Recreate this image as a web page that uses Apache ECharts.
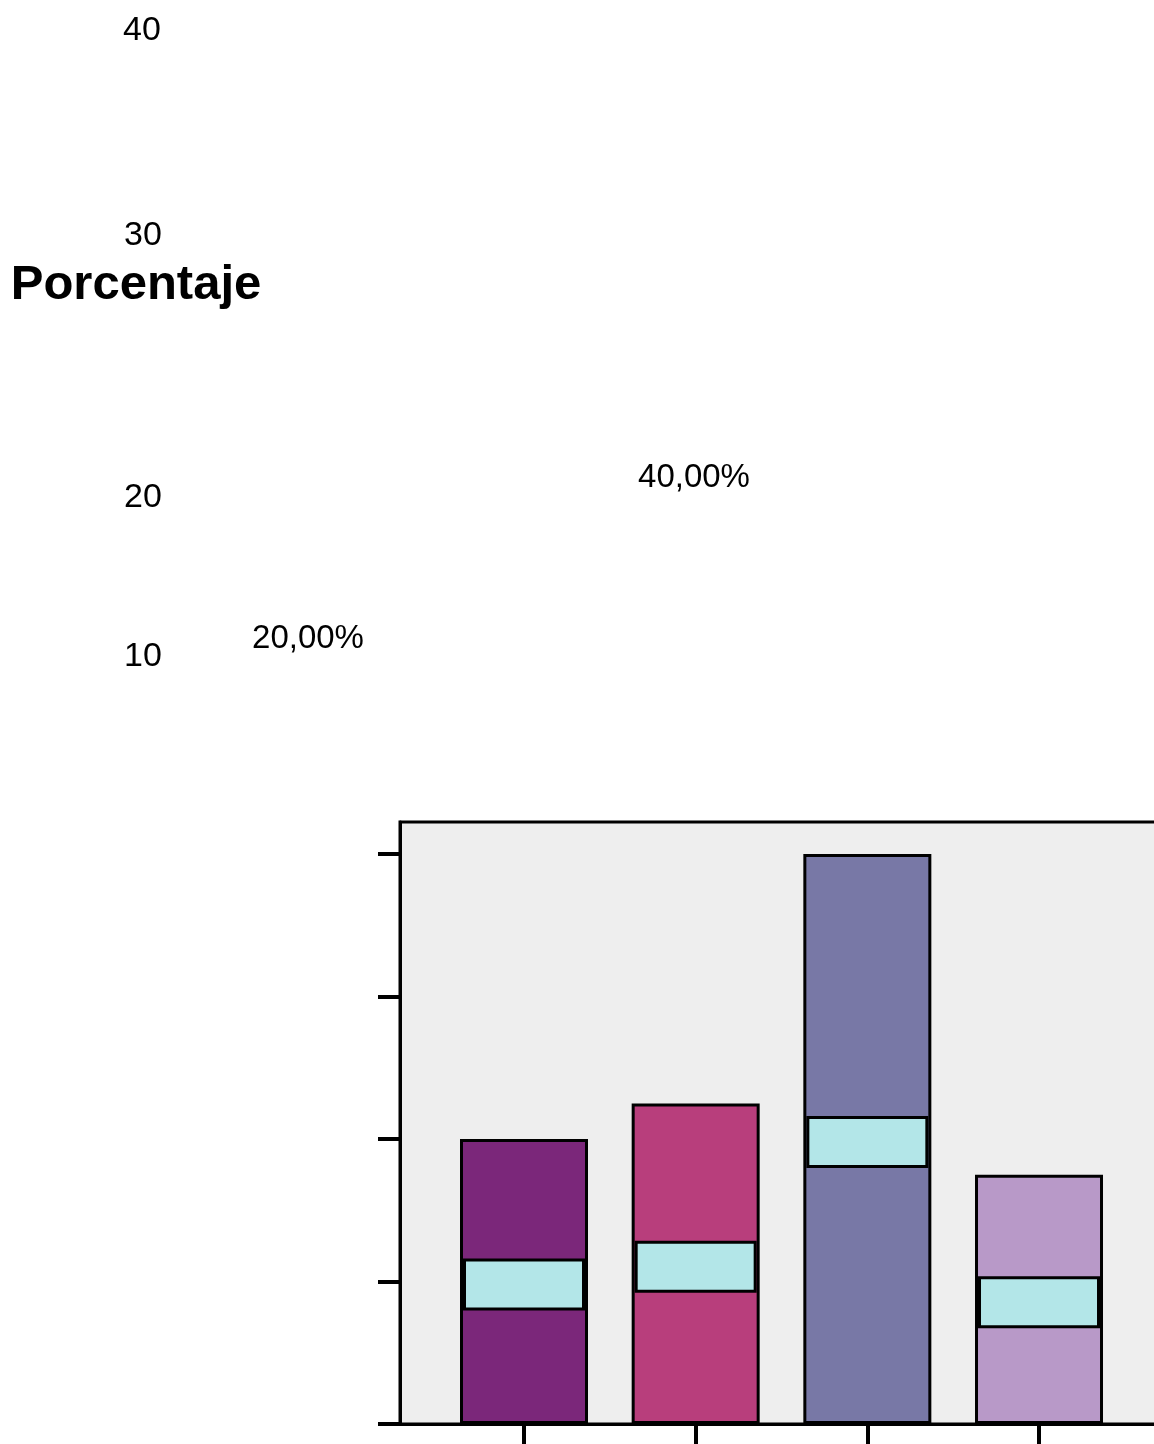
<!DOCTYPE html>
<html>
<head>
<meta charset="utf-8">
<script src="https://cdn.jsdelivr.net/npm/echarts@6/dist/echarts.min.js"></script>
<style>
html,body{margin:0;padding:0;background:#fff;}
#chart{width:1154px;height:1444px;}
</style>
</head>
<body>
<div id="chart"></div>
<script>
// ---- data ----
var categories = ['A', 'B', 'C', 'D'];
var values = [20, 22.5, 40, 17.5];
var barColors = ['#7B277A', '#B83E7C', '#7878A6', '#B899C8'];
var yTicks = [0, 10, 20, 30, 40];
var tickLabels = ['40', '30', '20', '10'];
var axisTitle = 'Porcentaje';
var shownPercentIdx = [0, 2]; // the two percentage texts that appear in the picture

// ---- layout (positions of the stray texts, as drawn in the original) ----
var tickLabelPos = [[142, 31], [143, 236], [143, 498], [143, 657]];
var titlePos = [136, 285];
var percentPos = [[308, 639], [694, 478]];

function fmtPct(v) { return v.toFixed(2).replace('.', ',') + '%'; }

var chart = echarts.init(document.getElementById('chart'));
var catIdx = categories.map(function (c, i) { return i + 1; });

var graphics = [];
tickLabels.forEach(function (t, i) {
  graphics.push({ type: 'text', x: tickLabelPos[i][0], y: tickLabelPos[i][1],
    style: { text: t, font: '34px "Liberation Sans", Arial, sans-serif', fill: '#000', align: 'center', verticalAlign: 'middle' } });
});
graphics.push({ type: 'text', x: titlePos[0], y: titlePos[1],
  style: { text: axisTitle, font: 'bold 49px "Liberation Sans", Arial, sans-serif', fill: '#000', align: 'center', verticalAlign: 'middle' } });
shownPercentIdx.forEach(function (k, i) {
  graphics.push({ type: 'text', x: percentPos[i][0], y: percentPos[i][1],
    style: { text: fmtPct(values[k]), font: '33px "Liberation Sans", Arial, sans-serif', fill: '#000', align: 'center', verticalAlign: 'middle' } });
});

var bandPx = 171.67;
var xMin = 1 - 124 / bandPx;
var gridW = 800;
var xMax = xMin + gridW / bandPx;

chart.setOption({
  animation: false,
  backgroundColor: '#ffffff',
  grid: { left: 400, top: 822, width: gridW, height: 602, outerBoundsMode: 'none', containLabel: false,
          show: true, backgroundColor: '#EEEEEE', borderColor: '#000', borderWidth: 3 },
  xAxis: {
    type: 'value', min: xMin, max: xMax,
    axisLine: { show: true, onZero: false, lineStyle: { color: '#000', width: 3 } },
    axisTick: { show: true, inside: false, length: 21, customValues: catIdx, lineStyle: { color: '#000', width: 4 } },
    axisLabel: { show: false },
    splitLine: { show: false }
  },
  yAxis: {
    type: 'value', min: 0, max: (1424 - 822) / 14.25,
    axisLine: { show: true, lineStyle: { color: '#000', width: 3 } },
    axisTick: { show: true, inside: false, length: 22, customValues: yTicks, lineStyle: { color: '#000', width: 4 } },
    axisLabel: { show: false },
    splitLine: { show: false }
  },
  series: [{
    type: 'bar',
    barWidth: 128,
    data: values.map(function (v, i) {
      return { value: [catIdx[i], v], itemStyle: { color: barColors[i] } };
    }),
    itemStyle: { borderColor: '#000', borderWidth: 3 },
    label: {
      show: true, position: 'inside', formatter: ' ', offset: [0, 3],
      backgroundColor: '#B3E6E8', borderColor: '#000', borderWidth: 3,
      width: 116, height: 46, padding: 0
    }
  }],
  graphic: graphics
});
</script>
</body>
</html>
